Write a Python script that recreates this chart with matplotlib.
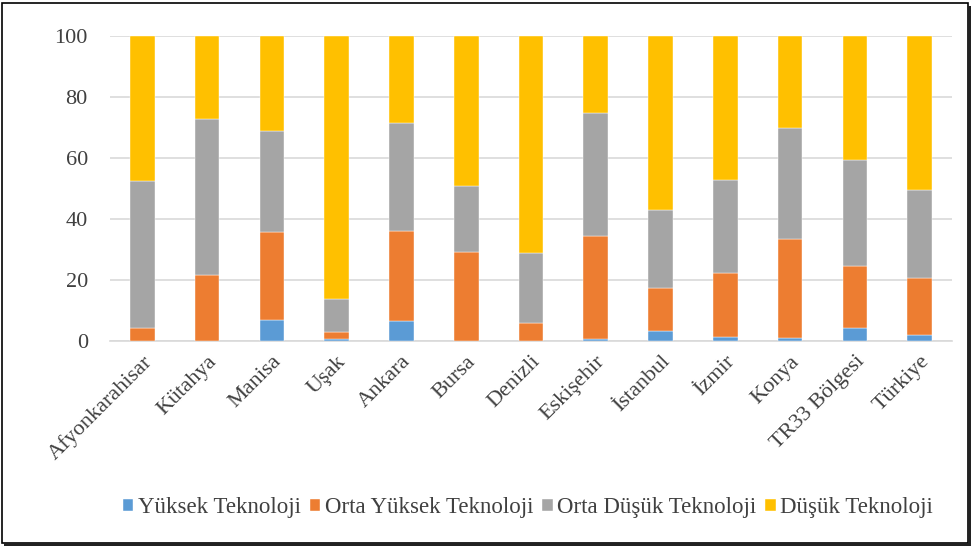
import matplotlib
matplotlib.use("Agg")
import matplotlib.pyplot as plt
from matplotlib.patches import Rectangle
import numpy as np

categories = ["Afyonkarahisar", "Kütahya", "Manisa", "Uşak", "Ankara", "Bursa", "Denizli",
              "Eskişehir", "İstanbul", "İzmir", "Konya", "TR33 Bölgesi", "Türkiye"]
yuksek = [0.0, 0.0, 7.0, 0.5, 6.7, 0.0, 0.0, 0.6, 3.3, 1.3, 0.9, 4.4, 2.1]
orta_yuksek = [4.3, 21.5, 28.6, 2.3, 29.3, 29.3, 5.9, 33.9, 14.0, 21.0, 32.4, 20.3, 18.4]
orta_dusuk = [48.3, 51.2, 33.4, 10.9, 35.6, 21.5, 23.1, 40.1, 25.7, 30.5, 36.4, 34.8, 29.0]
dusuk = [47.4, 27.3, 31.0, 86.3, 28.4, 49.2, 71.0, 25.4, 57.0, 47.2, 30.3, 40.5, 50.5]
series_names = ["Yüksek Teknoloji", "Orta Yüksek Teknoloji", "Orta Düşük Teknoloji", "Düşük Teknoloji"]
colors = ["#5B9BD5", "#ED7D31", "#A5A5A5", "#FFC000"]
yticks = [0, 20, 40, 60, 80, 100]

plt.rcParams['font.family'] = ['Liberation Serif', 'DejaVu Serif']

fig = plt.figure(figsize=(9.74, 5.48), dpi=100)
ax = fig.add_axes([110/974, 1-341/548, 842/974, 305/548])

x = np.arange(len(categories))
bottom = np.zeros(len(categories))
for vals, name, c in zip([yuksek, orta_yuksek, orta_dusuk, dusuk], series_names, colors):
    ax.bar(x, vals, width=0.38, bottom=bottom, color=c, label=name, zorder=3,
           edgecolor="white", linewidth=0.3)
    bottom += np.array(vals)

ax.set_xlim(-0.5, len(categories) - 0.5)
ax.set_ylim(0, 100)
ax.set_yticks(yticks)
ax.set_yticklabels([str(t) for t in yticks], fontsize=16, color="#404040")
ax.yaxis.grid(True, color="#D9D9D9", linewidth=1.2, zorder=0)
ax.set_axisbelow(True)
for s in ["top", "right", "left"]:
    ax.spines[s].set_visible(False)
ax.spines["bottom"].set_color("#D9D9D9")
ax.spines["bottom"].set_linewidth(1.2)
ax.tick_params(axis="both", length=0)
ax.tick_params(axis="y", pad=16)
ax.set_xticks(x)
ax.set_xticklabels(categories, rotation=45, ha="right", va="top", fontsize=16,
                   color="#404040", rotation_mode="anchor")
ax.tick_params(axis="x", pad=8)

fig.legend(loc="center", bbox_to_anchor=(528/974, 1-508/548), ncol=4, frameon=False,
           fontsize=16.5, handlelength=0.45, handleheight=0.45, handletextpad=0.2,
           columnspacing=0.4, labelcolor="#404040")

fig.patches.append(Rectangle((2/974, 5/548), 966/974, 540/548, transform=fig.transFigure,
                             fill=False, edgecolor="black", linewidth=1.2))
fig.patches.append(Rectangle((4/974, 2/548), 966/974, 3/548, transform=fig.transFigure,
                             facecolor="#222222", edgecolor="none"))
fig.patches.append(Rectangle((968/974, 2/548), 3/974, 540/548, transform=fig.transFigure,
                             facecolor="#222222", edgecolor="none"))

fig.savefig("out.png", dpi=100)
